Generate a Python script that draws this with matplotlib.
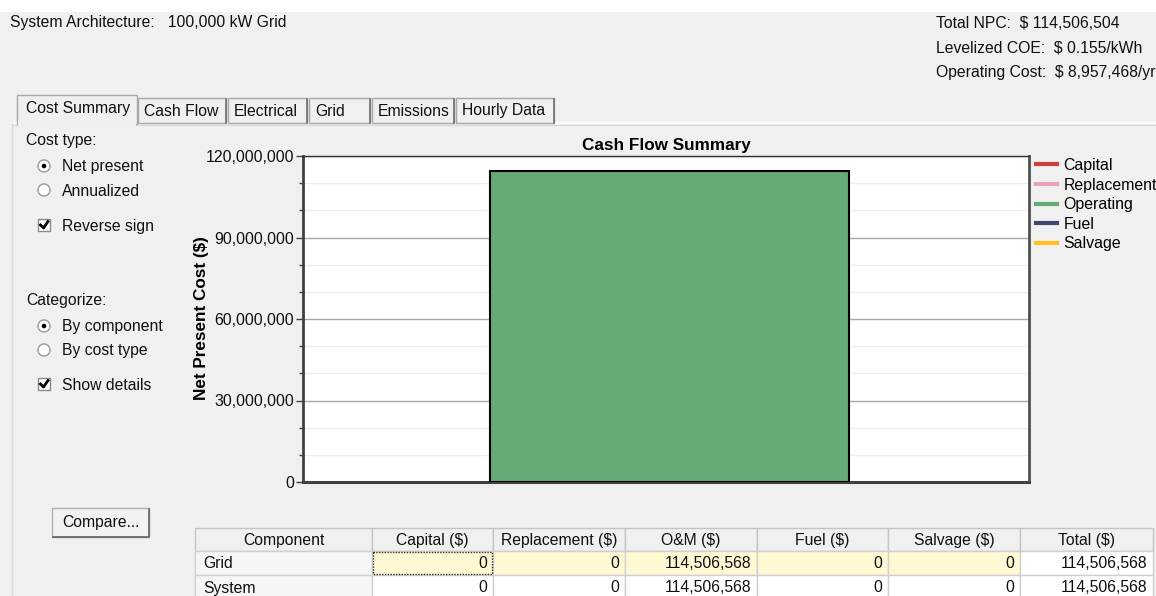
import matplotlib
matplotlib.use("Agg")
import matplotlib.pyplot as plt
from matplotlib import font_manager
from matplotlib.lines import Line2D
from matplotlib.patches import Rectangle, Circle
from matplotlib.ticker import FuncFormatter, MultipleLocator

# ---- data ----
components = ["Grid", "System"]
capital = [0, 0]
replacement = [0, 0]
om = [114506568, 114506568]
fuel = [0, 0]
salvage = [0, 0]
table_cols = ["Component", "Capital ($)", "Replacement ($)", "O&M ($)",
              "Fuel ($)", "Salvage ($)", "Total ($)"]

cost_types = ["Capital", "Replacement", "Operating", "Fuel", "Salvage"]
cost_colors = ["#cc4040", "#e8a0b8", "#66aa77", "#404870", "#ffc020"]
grid_costs = [capital[0], replacement[0], om[0], fuel[0], salvage[0]]

summary = ["Total NPC:  $ 114,506,504", "Levelized COE:  $ 0.155/kWh",
           "Operating Cost:  $ 8,957,468/yr"]
tabs = ["Cost Summary", "Cash Flow", "Electrical", "Grid", "Emissions", "Hourly Data"]

# ---- fonts ----
names = {f.name for f in font_manager.fontManager.ttflist}
narrow = "Liberation Sans Narrow" in names
UI = "Liberation Sans Narrow" if narrow else "Liberation Sans"
ui_fs = 13.4 if narrow else 11.3
head_fs = 14 if narrow else 12.3
plt.rcParams["font.family"] = ["Liberation Sans", "DejaVu Sans"]

W, H = 1156, 596
fig = plt.figure(figsize=(W / 100, H / 100), dpi=100, facecolor="#f0f0f0")

# ---- window chrome (pixel coordinates) ----
ui = fig.add_axes([0, 0, 1, 1], zorder=0)
ui.set_xlim(0, W)
ui.set_ylim(H, 0)
ui.axis("off")

def uitext(x, y, s, **kw):
    kw.setdefault("fontsize", ui_fs)
    ui.text(x, y, s, family=UI, va="center", color="#101010", **kw)

ui.add_patch(Rectangle((0, 0), W, 12, facecolor="white", edgecolor="none"))
uitext(10, 23, "System Architecture:   100,000 kW Grid")
for i, s in enumerate(summary):
    uitext(936, 23 + 24.5 * i, s)

# tab strip
tab_x = [18, 138, 228, 309, 372, 456, 556]
ui.plot([12, W], [123, 123], color="white", lw=1.5)
ui.plot([12, W], [124.5, 124.5], color="#d8d8d8", lw=0.8)
ui.plot([12, 12], [123, H], color="#dcdcdc", lw=1)
for i, name in enumerate(tabs):
    x0, x1 = tab_x[i], tab_x[i + 1] - 2
    if i == 0:
        ui.add_patch(Rectangle((x0 - 1, 95), x1 - x0 + 2, 29, facecolor="#f0f0f0",
                               edgecolor="#a8a8a8", lw=1, zorder=3))
        ui.add_patch(Rectangle((x0, 120), x1 - x0, 6, facecolor="#f0f0f0",
                               edgecolor="none", zorder=4))
        uitext(x0 + 8, 108, name, zorder=5)
    else:
        ui.add_patch(Rectangle((x0, 98), x1 - x0, 25, facecolor="#f0f0f0",
                               edgecolor="#a8a8a8", lw=1, zorder=2))
        ui.plot([x1, x1], [99, 123], color="#707070", lw=1.2, zorder=2)
        uitext(x0 + 6, 111, name, zorder=5)

# option controls
def radio(y, label, on):
    ui.add_patch(Circle((44, y), 6, facecolor="white", edgecolor="#9a9a9a", lw=1))
    if on:
        ui.add_patch(Circle((44, y), 2.3, facecolor="black", edgecolor="none"))
    uitext(62, y + 1, label)

def checkbox(y, label):
    ui.add_patch(Rectangle((38, y - 6), 12, 12, facecolor="white", edgecolor="#8a8a8a", lw=1))
    ui.plot([40.5, 43.5, 48], [y, y + 3, y - 3.5], color="black", lw=2)
    uitext(62, y + 1, label)

uitext(26, 141, "Cost type:")
radio(166, "Net present", True)
radio(190, "Annualized", False)
checkbox(225, "Reverse sign")
uitext(26, 300, "Categorize:")
radio(326, "By component", True)
radio(350, "By cost type", False)
checkbox(384, "Show details")

# compare button
ui.add_patch(Rectangle((52, 508), 97, 29, facecolor="#f2f2f2", edgecolor="#b0b0b0", lw=1))
ui.plot([53, 149, 149], [537, 537, 509], color="#606060", lw=1.2)
uitext(100.5, 522, "Compare...", ha="center")

# ---- results table ----
col_x = [195, 372, 493, 625, 757, 888, 1020, 1153]
row_y = [528, 551, 575, 599]
rows = []
for i, comp in enumerate(components):
    vals = [capital[i], replacement[i], om[i], fuel[i], salvage[i]]
    rows.append([comp] + vals + [sum(vals)])

for j, head in enumerate(table_cols):
    x0, x1 = col_x[j], col_x[j + 1]
    ui.add_patch(Rectangle((x0, row_y[0]), x1 - x0, row_y[1] - row_y[0],
                           facecolor="#f0f0f0", edgecolor="#c4c4c4", lw=1))
    uitext((x0 + x1) / 2, (row_y[0] + row_y[1]) / 2 + 1, head, ha="center")
for r, row in enumerate(rows):
    y0, y1 = row_y[r + 1], row_y[r + 2]
    for j, v in enumerate(row):
        x0, x1 = col_x[j], col_x[j + 1]
        if j == 0:
            fc = "#f6f6f6"
        elif r == 0 and 1 <= j <= 5:
            fc = "#fff8d2"
        else:
            fc = "white"
        ui.add_patch(Rectangle((x0, y0), x1 - x0, y1 - y0, facecolor=fc,
                               edgecolor="#d0d0d0", lw=1))
        if j == 0:
            uitext(x0 + 8, (y0 + y1) / 2 + 1, v)
        else:
            uitext(x1 - 6, (y0 + y1) / 2 + 1, f"{v:,.0f}", ha="right")
ui.add_patch(Rectangle((col_x[1] + 1, row_y[1] + 1), col_x[2] - col_x[1] - 2,
                       row_y[2] - row_y[1] - 2, facecolor="none",
                       edgecolor="#303030", lw=1, ls=(0, (1, 1))))

# ---- chart ----
ax = fig.add_axes([303 / W, (H - 482) / H, 726 / W, 326 / H], zorder=2)
ax.set_facecolor("white")
bottom = 0
for name, color, val in zip(cost_types, cost_colors, grid_costs):
    if val > 0:
        ax.bar(0.01, val, bottom=bottom, width=0.99, color=color,
               edgecolor="black", linewidth=1.5, zorder=3)
    bottom += val
ax.set_xlim(-1, 1)
ax.set_ylim(0, 120000000)
ax.set_xticks([])
ax.yaxis.set_major_locator(MultipleLocator(30000000))
ax.yaxis.set_minor_locator(MultipleLocator(10000000))
ax.yaxis.set_major_formatter(FuncFormatter(lambda v, p: f"{v:,.0f}"))
ax.tick_params(axis="y", which="major", length=5, width=1, color="#404040",
               labelsize=11.4, labelcolor="#101010", pad=1.5)
ax.tick_params(axis="y", which="minor", length=3, width=1, color="#404040")
ax.grid(True, which="major", axis="y", color="#a8a8a8", lw=1, zorder=1)
ax.grid(True, which="minor", axis="y", color="#ededed", lw=1, zorder=0)
ax.set_axisbelow(True)
for side, lw, c in [("left", 2, "#404040"), ("bottom", 2.2, "#404040"),
                    ("right", 2, "#505050"), ("top", 1, "#303030")]:
    ax.spines[side].set_linewidth(lw)
    ax.spines[side].set_color(c)

ax.set_title("Cash Flow Summary", family=UI, fontsize=head_fs, fontweight="bold", pad=4)
ax.set_ylabel("Net Present Cost ($)", family=UI, fontsize=head_fs, fontweight="bold")
ax.yaxis.set_label_coords(-0.129, 0.502)

handles = [Line2D([], [], color=c, lw=3) for c in cost_colors]
ax.legend(handles, cost_types, loc="upper left", bbox_to_anchor=(1036 / W, (H - 158) / H),
          bbox_transform=fig.transFigure, frameon=False, fontsize=11.4,
          handlelength=1.3, handletextpad=0.45, labelspacing=0.29,
          borderaxespad=0, borderpad=0)

fig.savefig("out.png", dpi=100, facecolor=fig.get_facecolor())
